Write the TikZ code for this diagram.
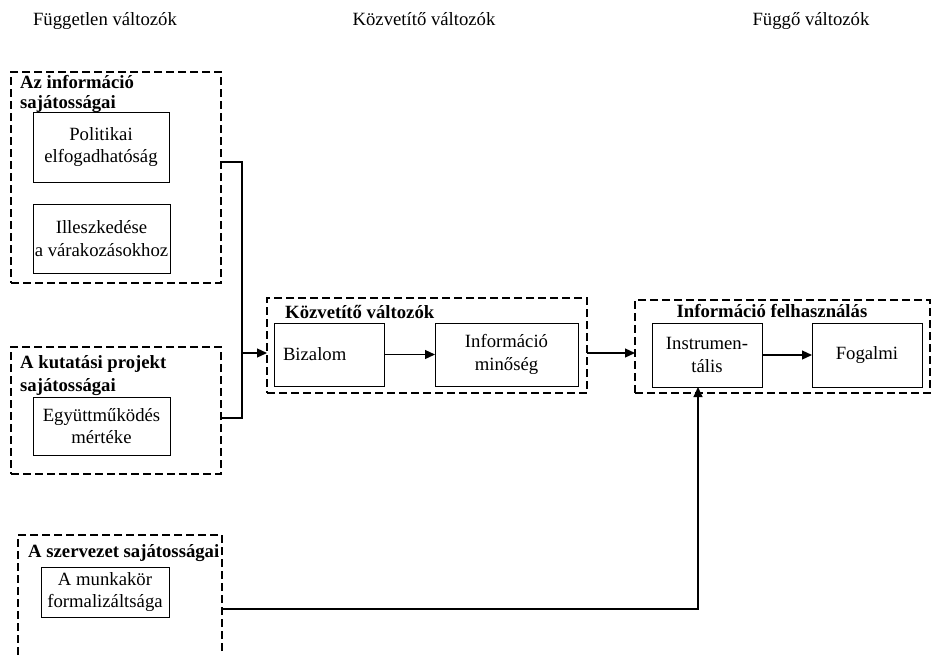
\documentclass[tikz,border=0pt]{standalone}
\usepackage{fontspec}
\setmainfont{Liberation Serif}
\usetikzlibrary{arrows.meta}
\begin{document}
\begin{tikzpicture}[x=1pt,y=-1pt,
  font=\fontsize{18.7}{22.5}\selectfont,
  dbox/.style={draw, line width=2pt, dash pattern=on 8pt off 4pt, rectangle, inner sep=0pt, outer sep=0pt, anchor=north west},
  ibox/.style={draw, line width=1pt, rectangle, align=center, inner sep=0pt, outer sep=0pt},
  ttl/.style={font=\fontsize{18.7}{19.5}\selectfont\bfseries, align=left, inner sep=0pt, anchor=base west},
  hdr/.style={inner sep=0pt, anchor=base},
  conn/.style={line width=1.2pt},
  arr/.style={line width=1.2pt, -{Triangle[length=10pt,width=9pt]}}
]
\useasboundingbox (0,0) rectangle (935,654);
\clip (0,0) rectangle (935,654);

% headers
\node[hdr] (h1) at (105,25) {Független változók};
\node[hdr] (h2) at (424,25) {Közvetítő változók};
\node[hdr] (h3) at (811,25) {Függő változók};

% dashed group boxes
\node[dbox, minimum width=210pt, minimum height=211pt] (B1) at (11,72) {};
\node[dbox, minimum width=210pt, minimum height=127pt] (B2) at (11,347) {};
\node[dbox, minimum width=204pt, minimum height=140pt] (B3) at (18,535) {};
\node[dbox, minimum width=320pt, minimum height=95pt] (BK) at (267,298) {};
\node[dbox, minimum width=295pt, minimum height=93pt] (BI) at (635,300) {};

% group titles (base = baseline of the last line)
\node[ttl] (t1) at (20,108) {Az információ\\sajátosságai};
\node[ttl, font=\fontsize{18.7}{23}\selectfont\bfseries] (t2) at (20,391) {A kutatási projekt\\sajátosságai};
\node[ttl] (t3) at (28,557) {A szervezet sajátosságai};
\node[ttl] (t4) at (285,318) {Közvetítő változók};
\node[ttl, anchor=base] (t5) at (772,317) {Információ felhasználás};

% inner boxes
\node[ibox, minimum width=136pt, minimum height=70pt] (pol) at (101,147) {Politikai\\elfogadhatóság};
\node[ibox, minimum width=137pt, minimum height=69pt] (ill) at (101.5,238.5) {Illeszkedése\\a várakozásokhoz};
\node[ibox, minimum width=137pt, minimum height=58pt] (egy) at (101.5,426) {Együttműködés\\mértéke};
\node[ibox, minimum width=128pt, minimum height=50pt] (mun) at (105,592) {A munkakör\\formalizáltsága};
\node[ibox, minimum width=110pt, minimum height=63pt, text width=92pt, align=left, inner xsep=9pt] (biz) at (329,354.5) {Bizalom};
\node[ibox, minimum width=143pt, minimum height=63pt] (inf) at (506.5,354.5) {Információ\\minőség};
\node[ibox, minimum width=110pt, minimum height=64pt] (ins) at (707,355) {Instrumen-\\tális};
\node[ibox, minimum width=110pt, minimum height=64pt] (fog) at (867,355) {Fogalmi};

% connectors
\coordinate (j1) at (242,162);
\coordinate (j2) at (242,418);
\coordinate (j3) at (242,353);
\coordinate (j4) at (698,609);
\draw[conn] (j1 -| B1.east) -- (j1) -- (j2) -- (j2 -| B2.east);
\draw[arr] (j3) -- (j3 -| BK.west);
\draw[arr] (biz.east) -- (inf.west);
\draw[arr] (j3 -| BK.east) -- (j3 -| BI.west);
\draw[arr] (ins.east) -- (fog.west);
\draw[arr] (j4 -| B3.east) -- (j4) -- (j4 |- ins.south);
\end{tikzpicture}
\end{document}
